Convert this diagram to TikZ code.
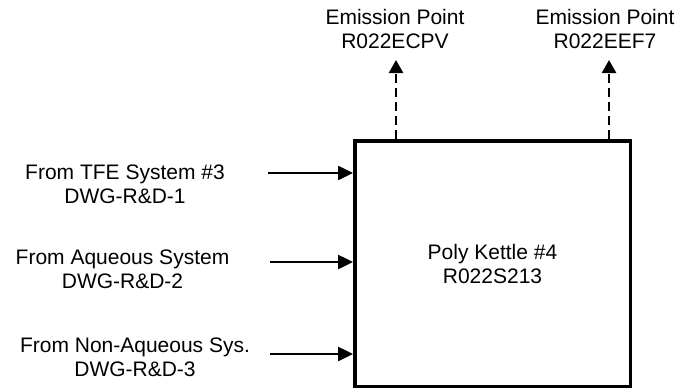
\documentclass[tikz,border=0pt]{standalone}
\usepackage{fontspec}
\setmainfont{Liberation Sans}
\usetikzlibrary{arrows.meta,positioning}
\tikzset{
  lbl/.style={font=\fontsize{21}{24}\selectfont, align=center, inner sep=0pt},
  kettlebox/.style={draw, line width=3.5pt, minimum width=275.5pt, minimum height=245.5pt,
                    font=\fontsize{21}{24}\selectfont, align=center},
  feedarr/.style={-{Triangle[length=15pt,width=14pt]}, line width=2.5pt},
  ventarr/.style={-{Triangle[length=13pt,width=14pt]}, line width=2.5pt, dash pattern=on 9pt off 5pt}
}

\begin{document}
\begin{tikzpicture}[x=1pt, y=-1pt]
  \useasboundingbox[fill=white] (0,0) rectangle (677,391);

  % Kettle
  \node[kettlebox] (kettle) at (492.5,263.5) {Poly Kettle \#4\\R022S213};

  % Feed sources
  \node[lbl] (srcA) at (125,184.5) {From TFE System \#3\\DWG-R\&D-1};
  \node[lbl] (srcB) at (122.5,269) {From Aqueous System\\DWG-R\&D-2};
  \node[lbl] (srcC) at (135,357.5) {From Non-Aqueous Sys.\\DWG-R\&D-3};
  \coordinate (feedA) at (268,173);
  \coordinate (feedB) at (270,262);
  \coordinate (feedC) at (270,354);
  \draw[feedarr] (feedA) -- (feedA -| kettle.west);
  \draw[feedarr] (feedB) -- (feedB -| kettle.west);
  \draw[feedarr] (feedC) -- (feedC -| kettle.west);

  % Emission points
  \node[lbl] (emA) at (395,29) {Emission Point\\R022ECPV};
  \node[lbl] (emB) at (605,29) {Emission Point\\R022EEF7};
  \coordinate (ventA) at (396,60);
  \coordinate (ventB) at (609,60);
  \draw[ventarr] (ventA |- kettle.north) -- (ventA);
  \draw[ventarr] (ventB |- kettle.north) -- (ventB);
\end{tikzpicture}
\end{document}
